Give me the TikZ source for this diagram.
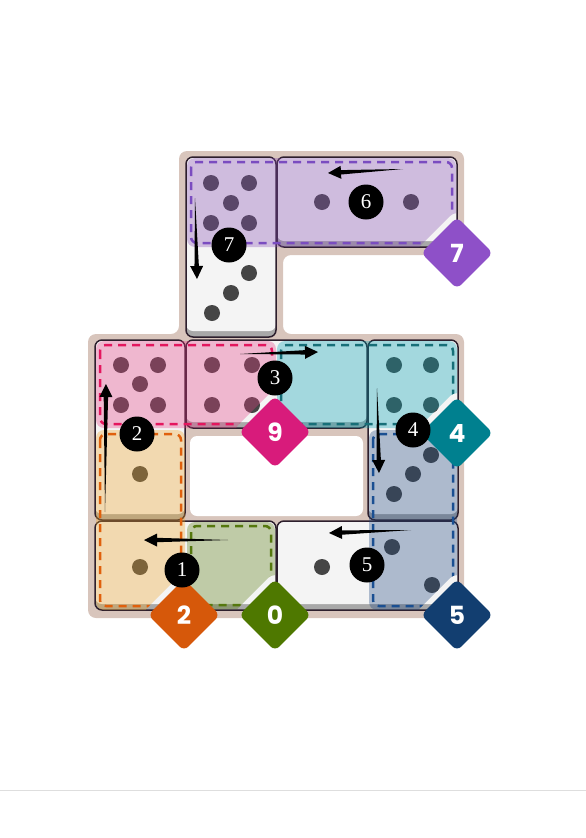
\documentclass[tikz,border=0pt]{standalone}
\usepackage{fontspec}
\usepackage{tikz}
\usetikzlibrary{calc,shapes.geometric}
\newfontfamily\tagfont{Poppins}
\newfontfamily\ordfont{Liberation Serif}
\definecolor{boardtan}{RGB}{216,197,188}
\definecolor{diewhite}{RGB}{244,244,244}
\definecolor{dieshadow}{RGB}{168,168,168}
\definecolor{dieline}{RGB}{45,31,45}
\definecolor{pipgray}{RGB}{69,69,69}
% region colours: overlay, dashes, tag
\definecolor{purplefill}{RGB}{134,77,179}
\definecolor{purpleline}{RGB}{122,76,192}
\definecolor{purpletag}{RGB}{142,80,200}
\definecolor{pinkfill}{RGB}{230,60,132}
\definecolor{pinkline}{RGB}{228,22,94}
\definecolor{pinktag}{RGB}{216,27,123}
\definecolor{tealfill}{RGB}{0,160,178}
\definecolor{tealline}{RGB}{23,111,120}
\definecolor{tealtag}{RGB}{0,128,143}
\definecolor{orangefill}{RGB}{240,165,40}
\definecolor{orangeline}{RGB}{224,96,12}
\definecolor{orangetag}{RGB}{214,88,10}
\definecolor{greenfill}{RGB}{86,121,12}
\definecolor{greenline}{RGB}{85,120,14}
\definecolor{greentag}{RGB}{78,120,0}
\definecolor{navyfill}{RGB}{30,69,126}
\definecolor{navyline}{RGB}{26,79,146}
\definecolor{navytag}{RGB}{18,62,112}
\tikzset{
	ordnode/.style={circle, fill=black, text=white, minimum size=35pt, inner sep=0pt, font=\ordfont\fontsize{21}{21}\selectfont},
	tagnode/.style={diamond, aspect=1, minimum size=72pt, inner sep=0pt, rounded corners=6pt, text=white, font=\tagfont\bfseries\fontsize{25}{25}\selectfont}
}
% domino: x1 y1 x2 y2
\newcommand{\domino}[4]{%
	\fill[dieshadow, rounded corners=7pt] (#1,#2) rectangle (#3,#4);
	\fill[diewhite, rounded corners=7pt] (#1,#2) rectangle (#3,#4-6);
	\draw[dieline, line width=1.5pt, rounded corners=7pt] (#1,#2) rectangle (#3,#4);
}
% region: colour x1 y1 x2 y2, then the centre of its tag (cut out)
\newcommand{\region}[7]{%
	\begin{scope}
		\clip[rounded corners=10pt] (0,0) -- (586,0) -- (586,838) -- (0,838) -- cycle
			(#6,#7-44) -- (#6-44,#7) -- (#6,#7+44) -- (#6+44,#7) -- cycle;
		\fill[#1fill, fill opacity=.33, rounded corners=8pt] (#2,#3) rectangle (#4,#5);
		\draw[#1line, line width=2.5pt, dash pattern=on 8pt off 6pt, rounded corners=6pt] (#2+4,#3+4) rectangle (#4-4,#5-4);
	\end{scope}
}
% tapered arrow: tail tip
\newcommand{\taper}[2]{%
	\coordinate (tb) at ($(#2)!13pt!(#1)$);
	\fill[black] (#1) -- ($(tb)!2.2pt!90:(#1)$) -- ($(tb)!6.5pt!90:(#1)$) -- (#2) -- ($(tb)!6.5pt!-90:(#1)$) -- ($(tb)!2.2pt!-90:(#1)$) -- cycle;
}

\begin{document}
\begin{tikzpicture}[x=1pt,y=-1pt]
			\useasboundingbox (0,0) rectangle (586,838);
			
			% board
			\fill[boardtan, rounded corners=8pt] (179,151) -- (464,151) -- (464,255) -- (283,255) -- (283,334) -- (464,334) -- (464,618) -- (88,618) -- (88,334) -- (179,334) -- cycle;
			\fill[white, rounded corners=7pt] (190,436) rectangle (363,516);
			
			% dominoes
			\domino{186}{157}{276}{337}
			\domino{277}{157}{457}{247}
			\domino{95}{340}{185}{520}
			\domino{186}{340}{367}{428}
			\domino{368}{340}{458}{520}
			\domino{95}{521}{276}{610}
			\domino{277}{521}{458}{610}
			
			% pips
			\foreach \px/\py in {211/183, 249/183, 231/203, 211/223, 249/223, 249/273, 231/293, 212/313, 322/202, 411/202,
				121/365, 158/365, 140/384, 121/405, 158/405, 212/365, 252/365, 212/405, 252/405,
				394/365, 431/365, 394/405, 431/405, 140/474, 431/455, 413/474, 394/494,
				140/567, 322/567, 392/547, 432/585}
				\fill[pipgray] (\px,\py) circle (8pt);
			
			% regions
			\region{purple}{187}{158}{456}{247}{457}{253}
			\region{pink}{96}{341}{276}{428}{275}{432}
			\region{teal}{277}{341}{457}{428}{457}{433}
			\region{orange}{96}{430}{185}{610}{184}{615}
			\region{green}{187}{522}{275}{609}{275}{615}
			\region{navy}{369}{430}{457}{610}{457}{615}
			
			% region sums
			\node[tagnode, fill=purpletag] (sum7) at (457,253) {7};
			\node[tagnode, fill=pinktag] (sum9) at (275,432) {9};
			\node[tagnode, fill=tealtag] (sum4) at (457,433) {4};
			\node[tagnode, fill=orangetag] (sum2) at (184,615) {2};
			\node[tagnode, fill=greentag] (sum0) at (275,615) {0};
			\node[tagnode, fill=navytag] (sum5) at (457,615) {5};
			
			% moves
			\coordinate (t1) at (228,540); \coordinate (h1) at (144,540);
			\coordinate (t2) at (105,512); \coordinate (h2) at (106,384);
			\coordinate (t3) at (240,354); \coordinate (h3) at (318,352);
			\coordinate (t4) at (377,388); \coordinate (h4) at (379,473);
			\coordinate (t5) at (411,530); \coordinate (h5) at (329,533);
			\coordinate (t6) at (403,169); \coordinate (h6) at (328,173);
			\coordinate (t7) at (195,198); \coordinate (h7) at (197,279);
			\taper{t1}{h1}
			\taper{t2}{h2}
			\taper{t3}{h3}
			\taper{t4}{h4}
			\taper{t5}{h5}
			\taper{t6}{h6}
			\taper{t7}{h7}
			
			\node[ordnode] (o1) at (182,570) {1};
			\node[ordnode] (o2) at (137,434) {2};
			\node[ordnode] (o3) at (275,378) {3};
			\node[ordnode] (o4) at (413,430) {4};
			\node[ordnode] (o5) at (367,565) {5};
			\node[ordnode] (o6) at (366,202) {6};
			\node[ordnode] (o7) at (229,245) {7};
			
			\draw[black!13, line width=1pt] (0,790) -- (586,790);
\end{tikzpicture}
\end{document}
